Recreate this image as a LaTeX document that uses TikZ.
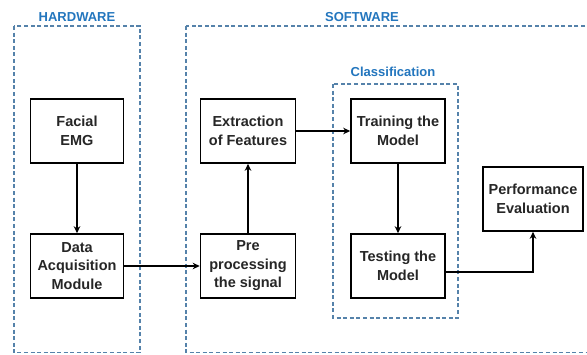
\documentclass[tikz,border=0pt]{standalone}
\usepackage{fontspec}
\setmainfont{Liberation Sans}
\usetikzlibrary{arrows.meta,calc}
\definecolor{dashblue}{RGB}{85,130,170}
\definecolor{labblue}{RGB}{35,118,190}
\tikzset{
  blk/.style={draw=black,line width=1.6pt,fill=white,align=center,inner sep=0pt,
    font=\bfseries\fontsize{14.5}{18.5}\selectfont,text=black!85},
  grp/.style={draw=dashblue,line width=1.2pt,dash pattern=on 4pt off 2.6pt},
  lab/.style={text=labblue,font=\bfseries\fontsize{13}{15}\selectfont,inner sep=0pt},
  arr/.style={line width=1.6pt,-{Stealth[length=7pt,width=6.5pt]}}
}
\begin{document}
\begin{tikzpicture}[x=1pt,y=-1pt]
\useasboundingbox (0,0) rectangle (587,354);
\fill[white] (0,0) rectangle (587,354);
\begin{scope}
\clip (0,0) rectangle (587,354);
\draw[grp] (14,26) rectangle (140,352.5);
\draw[grp] (186,26) rectangle (620,352.5);
\draw[grp] (333,84) rectangle (458,318);
\end{scope}
\node[lab] (hw) at (77,17) {HARDWARE};
\node[lab] (sw) at (362,17) {SOFTWARE};
\node[lab] (cl) at (393,72) {Classification};

\node[blk,minimum width=93pt,minimum height=64pt] (fe) at (77,131) {Facial\\EMG};
\node[blk,minimum width=93pt,minimum height=64pt] (da) at (77,266) {Data\\Acquisition\\Module};
\node[blk,minimum width=95pt,minimum height=64pt] (ex) at (248,131) {Extraction\\of Features};
\node[blk,minimum width=95pt,minimum height=64pt] (pp) at (248,266) {Pre\\processing\\the signal};
\node[blk,minimum width=94pt,minimum height=64pt] (tr) at (398,131) {Training the\\Model};
\node[blk,minimum width=94pt,minimum height=64pt] (te) at (398,266) {Testing the\\Model};
\node[blk,minimum width=100pt,minimum height=64pt] (pe) at (533,199) {Performance\\Evaluation};

\draw[arr] (fe) -- (da);
\draw[arr] (da) -- (pp);
\draw[arr] (pp) -- (ex);
\draw[arr] (ex) -- (tr);
\draw[arr] (tr) -- (te);
\draw[arr] ([yshift=-6pt]te.east) -| (pe.south);
\end{tikzpicture}
\end{document}
